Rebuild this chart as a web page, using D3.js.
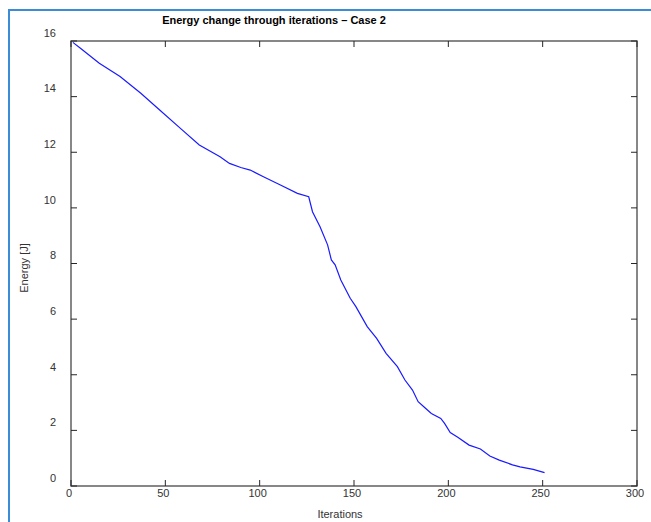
<!DOCTYPE html>
<html>
<head>
<meta charset="utf-8">
<script src="https://cdn.jsdelivr.net/npm/d3@7"></script>
<style>
  body { margin: 0; background: #fff; }
  text { font-family: "Liberation Sans", Arial, sans-serif; }
</style>
</head>
<body>
<div id="chart"></div>
<script>
// values
const iterations = [1, 5, 15, 26, 37, 47, 58, 68, 79, 84, 90, 95, 102, 111, 120, 126, 128, 132, 136, 138, 140, 143, 148, 151, 157, 162, 167, 173, 177, 181, 184, 187, 191, 196, 198, 201, 205, 211, 217, 222, 227, 234, 238, 245, 251];
const energy = [15.95, 15.74, 15.2, 14.72, 14.12, 13.52, 12.86, 12.26, 11.84, 11.6, 11.45, 11.36, 11.12, 10.82, 10.52, 10.4, 9.86, 9.32, 8.67, 8.13, 7.95, 7.41, 6.75, 6.45, 5.73, 5.31, 4.77, 4.29, 3.81, 3.45, 3.03, 2.85, 2.61, 2.43, 2.25, 1.92, 1.75, 1.47, 1.33, 1.08, 0.93, 0.76, 0.69, 0.6, 0.48];
const xTicks = [0, 50, 100, 150, 200, 250, 300];
const yTicks = [0, 2, 4, 6, 8, 10, 12, 14, 16];

const W = 651, H = 522;
const margin = { top: 41, right: 14, bottom: 36, left: 71 };

const svg = d3.select("#chart").append("svg")
    .attr("width", W)
    .attr("height", H);

// blue frame round the figure (top and left only are visible)
svg.append("path")
    .attr("d", `M9,${H} V10 H${W}`)
    .attr("fill", "none")
    .attr("stroke", "#3b8bd6")
    .attr("stroke-width", 2);

const x = d3.scaleLinear().domain([0, 300]).range([margin.left, W - margin.right]);
const y = d3.scaleLinear().domain([0, 16]).range([H - margin.bottom, margin.top]);

const data = iterations.map((d, i) => ({ it: d, e: energy[i] }));

// box
svg.append("rect")
    .attr("x", x(0)).attr("y", y(16))
    .attr("width", x(300) - x(0)).attr("height", y(0) - y(16))
    .attr("fill", "none")
    .attr("stroke", "#555")
    .attr("stroke-width", 1.4);

// inward ticks on all four sides
const tl = 6;
const ticks = svg.append("g").attr("stroke", "#262626").attr("stroke-width", 1);
xTicks.forEach(t => {
    ticks.append("line").attr("x1", x(t)).attr("x2", x(t)).attr("y1", y(0)).attr("y2", y(0) - tl);
    ticks.append("line").attr("x1", x(t)).attr("x2", x(t)).attr("y1", y(16)).attr("y2", y(16) + tl);
});
yTicks.forEach(t => {
    ticks.append("line").attr("x1", x(0)).attr("x2", x(0) + tl).attr("y1", y(t)).attr("y2", y(t));
    ticks.append("line").attr("x1", x(300)).attr("x2", x(300) - tl).attr("y1", y(t)).attr("y2", y(t));
});

// tick labels
svg.selectAll(".xlab")
    .data(xTicks)
    .enter().append("text")
    .attr("class", "xlab")
    .attr("x", d => x(d) - 2)
    .attr("y", y(0) + 7)
    .attr("dy", "0.35em")
    .attr("text-anchor", "middle")
    .attr("font-size", 11)
    .attr("fill", "#333")
    .text(d => d);

svg.selectAll(".ylab")
    .data(yTicks)
    .enter().append("text")
    .attr("class", "ylab")
    .attr("x", 56)
    .attr("y", d => y(d) - 8)
    .attr("dy", "0.35em")
    .attr("text-anchor", "end")
    .attr("font-size", 11)
    .attr("fill", "#333")
    .text(d => d);

// the curve
svg.append("path")
    .datum(data)
    .attr("fill", "none")
    .attr("stroke", "#1a1aff")
    .attr("stroke-width", 1.2)
    .attr("d", d3.line().x(d => x(d.it)).y(d => y(d.e)));

// titles
svg.append("text")
    .attr("x", 274)
    .attr("y", 20)
    .attr("dy", "0.35em")
    .attr("text-anchor", "middle")
    .attr("font-size", 11)
    .attr("font-weight", "bold")
    .attr("fill", "#000")
    .text("Energy change through iterations – Case 2");

svg.append("text")
    .attr("x", 340)
    .attr("y", 514)
    .attr("dy", "0.35em")
    .attr("text-anchor", "middle")
    .attr("font-size", 11)
    .attr("fill", "#333")
    .text("Iterations");

svg.append("text")
    .attr("transform", "translate(24,268) rotate(-90)")
    .attr("dy", "0.35em")
    .attr("text-anchor", "middle")
    .attr("font-size", 11)
    .attr("fill", "#333")
    .text("Energy [J]");
</script>
</body>
</html>
